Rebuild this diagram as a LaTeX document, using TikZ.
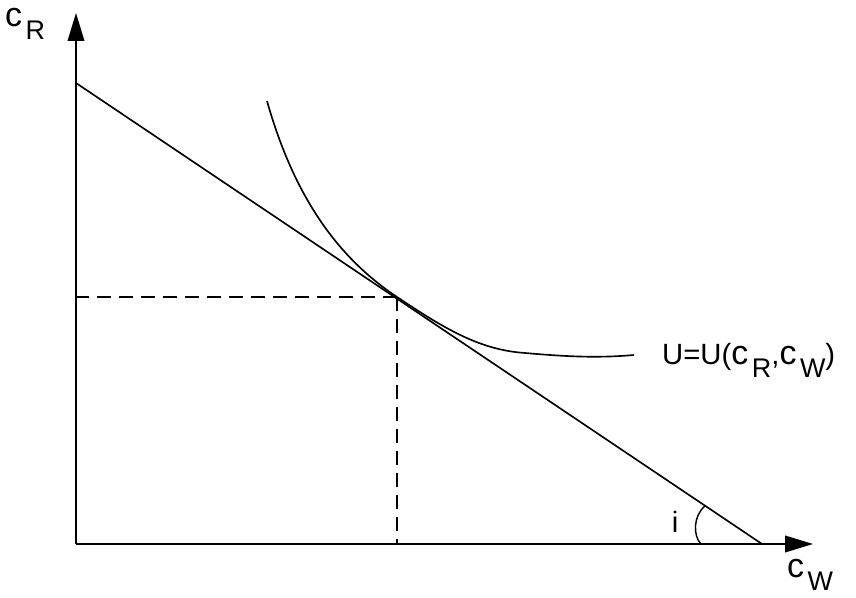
\documentclass[tikz,border=0pt]{standalone}
\usepackage{fontspec}
\setmainfont{Liberation Sans}
\usetikzlibrary{arrows.meta,positioning}
\newcommand{\cvar}[1]{{\fontsize{29}{32}\selectfont c}\hspace{3pt}\raisebox{-11pt}{\fontsize{23}{26}\selectfont #1}}
\tikzset{
  axis/.style={-{Triangle[length=8.4mm,width=5mm]},line width=1.4pt},
  budget/.style={line width=1.4pt},
  indiff/.style={line width=1.4pt},
  guide/.style={dash pattern=on 4.2mm off 2.4mm,line width=1.2pt},
  varlabel/.style={inner sep=0pt,font=\fontsize{25}{29}\selectfont},
}
\begin{document}
\begin{tikzpicture}[x=0.03cm,y=0.03cm]
  \useasboundingbox (0,0) rectangle (856,598);
  % axes
  \coordinate (O) at (76,54);
  \coordinate (ytip) at (76,585);
  \coordinate (xtip) at (813,54);
  \draw[axis] (O) -- (ytip);
  \draw[axis] (O) -- (xtip);
  \node[varlabel,anchor=base west] (cR) at (5,571) {\cvar{R}};
  \node[varlabel,anchor=base west] (cW) at (787,20) {\cvar{W}};
  % budget line and optimum
  \coordinate (A) at (76,515);
  \coordinate (B) at (762,54);
  \coordinate (T) at (397,301);
  \draw[budget] (A) -- (B);
  \draw[guide] (T) -- (T -| O);
  \draw[guide] (T) -- (T |- O);
  \coordinate (iA) at (701,54);
  \coordinate (iB) at (705,92);
  \draw[line width=1.2pt] (iA) .. controls (693,62) and (693,82) .. (iB);
  \node[varlabel,anchor=base] (i) at (675,65) {i};
  % indifference curve
  \coordinate (Ustart) at (267,497);
  \coordinate (Uend) at (634,243);
  \node[varlabel,anchor=base west] (U) at (662,233) {U=U(\cvar{R},\cvar{W})};
  \draw[indiff] (Ustart) .. controls (295,398) and (340,339) .. (T)
    .. controls (445,269) and (480,248) .. (525,245)
    .. controls (570,241) and (600,240) .. (Uend);
\end{tikzpicture}
\end{document}
